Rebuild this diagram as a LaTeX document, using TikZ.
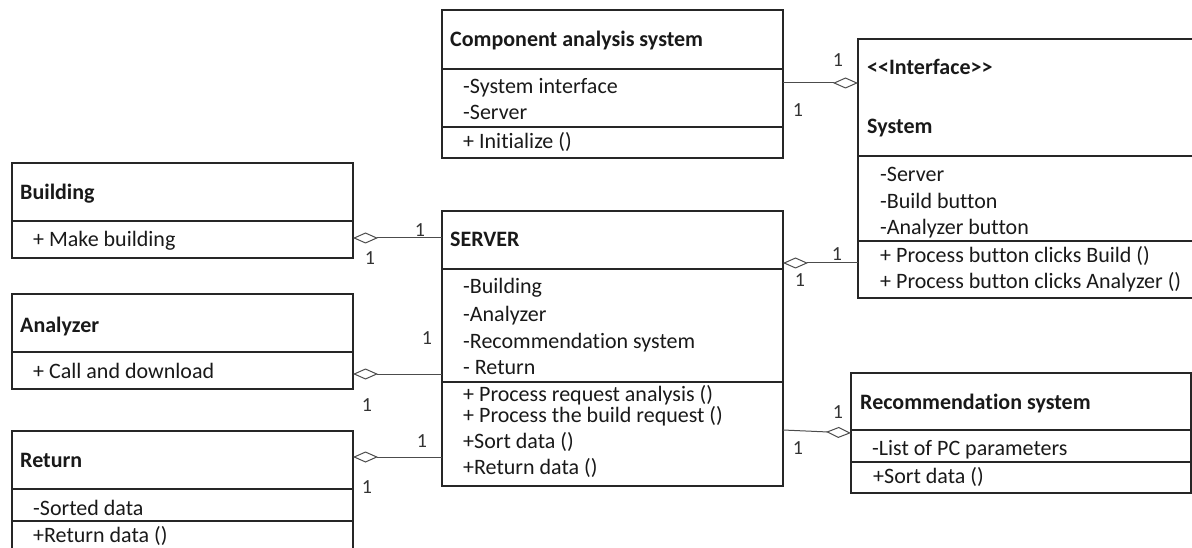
\documentclass[tikz,border=0pt]{standalone}
\usepackage{fontspec}
\setmainfont{Carlito}[Ligatures=NoCommon]
\usetikzlibrary{arrows.meta}
\tikzset{
  comp/.style={draw=black!85, line width=1.6pt, anchor=north west, inner sep=0pt, outer sep=0pt, rectangle},
  ttl/.style={anchor=base west, inner sep=0pt, font=\fontsize{22}{26}\selectfont\bfseries, text=black!90},
  itm/.style={anchor=base west, inner sep=0pt, font=\fontsize{22}{26}\selectfont, text=black!90},
  mult/.style={inner sep=0pt, font=\fontsize{20}{22}\selectfont, text=black!80},
  aggr/.style={draw=black!70, line width=1pt, {Diamond[open, length=25pt, width=11pt, line width=1pt]}-},
}
\begin{document}
\begin{tikzpicture}[x=1pt,y=1pt]
\useasboundingbox (0,0) rectangle (1192,-548);
\clip (0,0) rectangle (1192,-548);
% Component analysis system
\node[comp, minimum width=341pt, minimum height=59pt] (cash) at (442,-10) {};
\node[comp, minimum width=341pt, minimum height=58pt] (casa) at (442,-69) {};
\node[comp, minimum width=341pt, minimum height=31pt] (casm) at (442,-127) {};
\node[ttl] (cast) at (450,-47) {Component analysis system};
\node[itm] (casa1) at (463,-94) {-System interface};
\node[itm] (casa2) at (463,-120) {-Server};
\node[itm] (casm1) at (463,-149) {+ Initialize ()};
% System
\node[comp, minimum width=380pt, minimum height=117pt] (sysh) at (858,-39) {};
\node[comp, minimum width=380pt, minimum height=85pt] (sysa) at (858,-156) {};
\node[comp, minimum width=380pt, minimum height=57pt] (sysm) at (858,-241) {};
\node[ttl] (syst1) at (867,-75) {<{}<Interface>{}>};
\node[ttl] (syst2) at (867,-134) {System};
\node[itm] (sysa1) at (880,-182) {-Server};
\node[itm] (sysa2) at (880,-209) {-Build button};
\node[itm] (sysa3) at (880,-235) {-Analyzer button};
\node[itm] (sysm1) at (880,-262) {+ Process button clicks Build ()};
\node[itm] (sysm2) at (880,-288) {+ Process button clicks Analyzer ()};
% Building
\node[comp, minimum width=341pt, minimum height=58pt] (bldh) at (12,-163) {};
\node[comp, minimum width=341pt, minimum height=37pt] (bldm) at (12,-221) {};
\node[ttl] (bldt) at (20,-200) {Building};
\node[itm] (bldm1) at (33,-247) {+ Make building};
% Analyzer
\node[comp, minimum width=341pt, minimum height=58pt] (anah) at (12,-294) {};
\node[comp, minimum width=341pt, minimum height=37pt] (anam) at (12,-352) {};
\node[ttl] (anat) at (20,-332) {Analyzer};
\node[itm] (anam1) at (33,-378) {+ Call and download};
% Return
\node[comp, minimum width=341pt, minimum height=58pt] (reth) at (12,-431) {};
\node[comp, minimum width=341pt, minimum height=32pt] (reta) at (12,-489) {};
\node[comp, minimum width=341pt, minimum height=40pt] (retm) at (12,-521) {};
\node[ttl] (rett) at (20,-467) {Return};
\node[itm] (reta1) at (33,-515) {-Sorted data};
\node[itm] (retm1) at (33,-542) {+Return data ()};
% SERVER
\node[comp, minimum width=341pt, minimum height=58pt] (srvh) at (442,-211) {};
\node[comp, minimum width=341pt, minimum height=113pt] (srva) at (442,-269) {};
\node[comp, minimum width=341pt, minimum height=104pt] (srvm) at (442,-382) {};
\node[ttl] (srvt) at (450,-247) {SERVER};
\node[itm] (srva1) at (463,-294) {-Building};
\node[itm] (srva2) at (463,-321) {-Analyzer};
\node[itm] (srva3) at (463,-348) {-Recommendation system};
\node[itm] (srva4) at (463,-374) {- Return};
\node[itm] (srvm1) at (463,-401) {+ Process request analysis ()};
\node[itm] (srvm2) at (463,-422) {+ Process the build request ()};
\node[itm] (srvm3) at (463,-448) {+Sort data ()};
\node[itm] (srvm4) at (463,-474) {+Return data ()};
% Recommendation system
\node[comp, minimum width=340pt, minimum height=57pt] (rech) at (851,-373) {};
\node[comp, minimum width=340pt, minimum height=32pt] (reca) at (851,-430) {};
\node[comp, minimum width=340pt, minimum height=31pt] (recm) at (851,-462) {};
\node[ttl] (rect) at (860,-409) {Recommendation system};
\node[itm] (reca1) at (872,-455) {-List of PC parameters};
\node[itm] (recm1) at (873,-483) {+Sort data ()};
% connector heights
\coordinate (yc1) at (0,-83);
\coordinate (yc2) at (0,-263);
\coordinate (yc3) at (0,-238);
\coordinate (yc4) at (0,-374);
\coordinate (yc5) at (0,-457);
\coordinate (yc6a) at (0,-430);
\coordinate (yc6b) at (0,-433);
% connectors
\draw[aggr] (sysh.west |- yc1) -- (cash.east |- yc1);
\draw[aggr] (srvh.east |- yc2) -- (sysm.west |- yc2);
\draw[aggr] (bldm.east |- yc3) -- (srvh.west |- yc3);
\draw[aggr] (anam.east |- yc4) -- (srva.west |- yc4);
\draw[aggr] (reth.east |- yc5) -- (srvm.west |- yc5);
\draw[aggr] (reca.west |- yc6b) -- (srvm.east |- yc6a);
% multiplicities
\node[mult] (m1a) at (838,-60) {1};
\node[mult] (m1b) at (798,-110) {1};
\node[mult] (m2a) at (837,-254) {1};
\node[mult] (m2b) at (800,-280) {1};
\node[mult] (m3a) at (420,-230) {1};
\node[mult] (m3b) at (370,-258) {1};
\node[mult] (m4a) at (427,-338) {1};
\node[mult] (m4b) at (367,-405) {1};
\node[mult] (m5a) at (422,-441) {1};
\node[mult] (m5b) at (367,-487) {1};
\node[mult] (m6a) at (838,-412) {1};
\node[mult] (m6b) at (798,-448) {1};
\end{tikzpicture}
\end{document}
